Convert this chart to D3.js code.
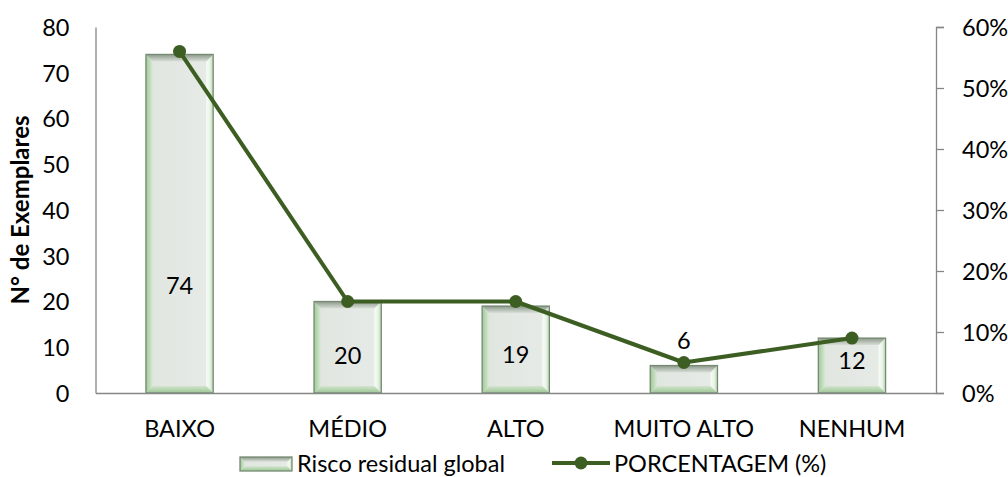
<!DOCTYPE html>
<html>
<head>
<meta charset="utf-8">
<script src="https://cdn.jsdelivr.net/npm/d3@7/dist/d3.min.js"></script>
<style>
  html, body { margin: 0; padding: 0; background: #fff; }
  svg text { font-family: Lato, "Open Sans", sans-serif; fill: #000; }
</style>
</head>
<body>
<svg id="chart" width="1008" height="477"></svg>
<script>
// Risk categories and counts of specimens
const categories = ["BAIXO", "MÉDIO", "ALTO", "MUITO ALTO", "NENHUM"];
const counts = [74, 20, 19, 6, 12];
const percents = [0.56, 0.15, 0.15, 0.05, 0.09];
const leftTicks = [0, 10, 20, 30, 40, 50, 60, 70, 80];
const rightTicks = [0, 0.1, 0.2, 0.3, 0.4, 0.5, 0.6];
// where each count label sits, in count units
const labelAt = [23.4, 8.1, 8.5, 11.5, 7];

const W = 1008, H = 477;
const m = { top: 27, right: 72, bottom: 84, left: 95.5 };
const svg = d3.select("#chart");
const defs = svg.append("defs");

const x = d3.scaleBand().domain(categories)
  .range([m.left, W - m.right]).paddingInner(0.6).paddingOuter(0.3);
const y = d3.scaleLinear().domain([0, 80]).range([H - m.bottom, m.top]);
const y2 = d3.scaleLinear().domain([0, 0.6]).range([H - m.bottom, m.top]);

// gradients for the bevelled columns
function grad(id, x1, y1, x2, y2_, stops) {
  const g = defs.append("linearGradient").attr("id", id)
    .attr("x1", x1).attr("y1", y1).attr("x2", x2).attr("y2", y2_);
  stops.forEach(([o, c]) => g.append("stop").attr("offset", o).attr("stop-color", c));
}
grad("bvL", 0, 0, 1, 0, [[0, "#9ccb92"], [1, "#dde8db"]]);
grad("bvR", 0, 0, 1, 0, [[0, "#f7fcf6"], [0.5, "#eaf5e8"], [1, "#bcd8b6"]]);
grad("bvT", 0, 0, 0, 1, [[0, "#8c998a"], [1, "#d9dfd8"]]);
grad("bvB", 0, 0, 0, 1, [[0, "#d2e4ce"], [1, "#9cc693"]]);
grad("face", 0, 0, 1, 0, [[0, "#dfe6de"], [0.5, "#e4e8e4"], [1, "#e6ebe6"]]);

function bevelBar(g, x0, y0, x1, y1) {
  const b = Math.min(7, (y1 - y0) / 3, (x1 - x0) / 3);
  g.append("rect").attr("x", x0).attr("y", y0).attr("width", x1 - x0).attr("height", y1 - y0)
    .attr("fill", "url(#face)");
  const poly = (pts, fill) => g.append("polygon")
    .attr("points", pts.map(p => p.join(",")).join(" ")).attr("fill", fill);
  poly([[x0, y0], [x0 + b, y0 + b], [x0 + b, y1 - b], [x0, y1]], "url(#bvL)");
  poly([[x1, y0], [x1 - b, y0 + b], [x1 - b, y1 - b], [x1, y1]], "url(#bvR)");
  poly([[x0, y0], [x1, y0], [x1 - b, y0 + b], [x0 + b, y0 + b]], "url(#bvT)");
  poly([[x0, y1], [x1, y1], [x1 - b, y1 - b], [x0 + b, y1 - b]], "url(#bvB)");
  g.append("rect").attr("x", x0).attr("y", y0).attr("width", x1 - x0).attr("height", y1 - y0)
    .attr("fill", "none").attr("stroke", "#768a73").attr("stroke-width", 1.3);
}

const fs = 23.5;
const axisColor = "#868686";

// left axis: line and labels only
const gl = svg.append("g").attr("transform", `translate(${m.left},0)`)
  .call(d3.axisLeft(y).tickValues(leftTicks).tickSize(0).tickPadding(26));
gl.select(".domain").attr("stroke", axisColor).attr("stroke-width", 1.3);
gl.selectAll("text").style("font-size", fs + "px").attr("dy", "0.36em");

// right axis with outward ticks
const gr = svg.append("g").attr("transform", `translate(${W - m.right},0)`)
  .call(d3.axisRight(y2).tickValues(rightTicks).tickSize(8).tickPadding(18)
    .tickFormat(d3.format(".0%")));
gr.select(".domain").attr("stroke", axisColor).attr("stroke-width", 1.3);
gr.selectAll(".tick line").attr("stroke", axisColor).attr("stroke-width", 1.3);
gr.selectAll("text").style("font-size", fs + "px").attr("dy", "0.36em");

// columns
const bars = svg.append("g");
categories.forEach((c, i) => {
  bevelBar(bars, x(c), y(counts[i]), x(c) + x.bandwidth(), y(0));
});

// bottom axis
const gb = svg.append("g").attr("transform", `translate(0,${H - m.bottom})`)
  .call(d3.axisBottom(x).tickSize(0).tickPadding(27).tickSizeOuter(0));
gb.select(".domain").attr("stroke", axisColor).attr("stroke-width", 1.3);
gb.selectAll("text").style("font-size", fs + "px");

// count labels
svg.append("g").selectAll("text").data(categories).join("text")
  .attr("x", d => x(d) + x.bandwidth() / 2)
  .attr("y", (d, i) => y(labelAt[i]))
  .attr("dy", "0.36em")
  .attr("text-anchor", "middle")
  .style("font-size", fs + "px")
  .text((d, i) => counts[i]);

// percentage line
const lineColor = "#3d5e22";
const cx = c => x(c) + x.bandwidth() / 2;
svg.append("path")
  .attr("d", d3.line().x(d => cx(d)).y((d, i) => y2(percents[i]))(categories))
  .attr("fill", "none").attr("stroke", lineColor).attr("stroke-width", 4)
  .attr("stroke-linejoin", "round");
svg.append("g").selectAll("circle").data(categories).join("circle")
  .attr("cx", d => cx(d)).attr("cy", (d, i) => y2(percents[i]))
  .attr("r", 6.5).attr("fill", lineColor);

// y axis title
svg.append("text")
  .attr("transform", `translate(29,${(m.top + H - m.bottom) / 2}) rotate(-90)`)
  .attr("text-anchor", "middle")
  .style("font-size", "24px").style("font-weight", "bold")
  .text("N° de Exemplares");

// legend
const lg = svg.append("g");
bevelBar(lg, 240, 457, 292, 471);
lg.append("text").attr("x", 297).attr("y", 464).attr("dy", "0.36em")
  .style("font-size", fs + "px").text("Risco residual global");
lg.append("line").attr("x1", 552).attr("x2", 610).attr("y1", 463).attr("y2", 463)
  .attr("stroke", lineColor).attr("stroke-width", 4);
lg.append("circle").attr("cx", 581).attr("cy", 463).attr("r", 6.5).attr("fill", lineColor);
lg.append("text").attr("x", 614).attr("y", 464).attr("dy", "0.36em")
  .style("font-size", fs + "px").text("PORCENTAGEM (%)");
</script>
</body>
</html>
